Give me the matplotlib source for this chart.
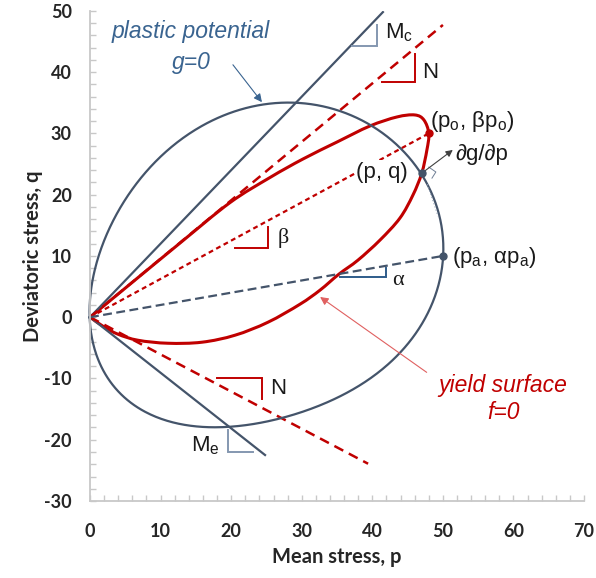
import numpy as np
import matplotlib
matplotlib.use("Agg")
import matplotlib.pyplot as plt
from matplotlib.path import Path
from matplotlib.patches import PathPatch

plt.rcParams["mathtext.fontset"] = "custom"
plt.rcParams["mathtext.rm"] = "Liberation Sans"
plt.rcParams["mathtext.it"] = "Liberation Sans:italic"
plt.rcParams["axes.unicode_minus"] = False

# ---- traced data ----
# plastic potential g=0 (closed curve, traced clockwise from origin)
g_p = [0.00, 0.28, 1.42, 3.26, 5.67, 8.92, 12.75, 16.57, 20.25, 24.08, 27.62, 30.17,
       35.41, 39.66, 42.78, 45.33, 47.0, 48.58, 49.72, 50.14, 50.0, 49.15, 47.73,
       45.75, 43.77, 41.50, 39.24, 35.41, 32.15, 29.75, 25.21, 19.55, 15.86, 11.05,
       6.37, 3.12, 1.13, 0.28]
g_q = [0.00, 4.90, 10.46, 15.85, 20.75, 25.16, 28.59, 31.70, 33.50, 34.64, 35.13, 34.97,
       33.50, 31.05, 28.10, 25.65, 23.5, 18.30, 14.22, 10.95, 10.0, 4.41, 0.00,
       -3.76, -5.72, -8.17, -10.29, -13.07, -14.71, -15.69, -17.16, -17.65, -17.48, -16.83,
       -14.71, -11.44, -8.17, -4.90]
# yield surface f=0 (starts and ends at origin)
f_p = [0, 6.0, 12.75, 19.83, 25.50, 30.17, 34.99, 39.66, 43.48, 46.03, 47.31, 48.0,
       47.73, 47.0, 45.75, 43.91, 41.08, 37.96, 35.27, 32.58, 29.75, 25.21, 20.54,
       15.86, 11.05, 6.80, 3.97, 1.84, 0]
f_q = [0, 5.7, 12.1, 18.7, 22.8, 25.82, 28.59, 31.21, 32.68, 33.01, 32.19, 30.0,
       27.29, 23.5, 19.93, 16.18, 12.58, 9.31, 7.03, 4.41, 2.12, -0.82, -2.94,
       -4.08, -4.25, -3.76, -2.78, -1.47, 0]

# straight lines through origin: slope and end p
Mc_slope, Mc_end = 1.2, 41.5
Nu_slope, Nu_end = 0.954, 50.0
Nl_slope, Nl_end = -0.607, 39.4
Me_slope, Me_end = -0.907, 24.8
beta, po = 0.625, 48.0
alpha, pa = 0.2, 50.0
p_pt, q_pt = 47.0, 23.5

xticks = [0, 10, 20, 30, 40, 50, 60, 70]
yticks = [-30, -20, -10, 0, 10, 20, 30, 40, 50]

RED = "#C00000"
NAVY = "#44546A"
TRI = "#8497B0"
BLUE_TXT = "#3A6490"


def cr_path(px, py, closed):
    P = np.column_stack([px, py]).astype(float)
    n = len(P)
    if closed:
        ext = np.vstack([P[-1], P, P[0], P[1]])
    else:
        ext = np.vstack([2 * P[0] - P[1], P, 2 * P[-1] - P[-2]])
    verts = [ext[1]]
    codes = [Path.MOVETO]
    nseg = n if closed else n - 1
    for i in range(1, nseg + 1):
        p0, p1, p2, p3 = ext[i - 1], ext[i], ext[i + 1], ext[i + 2]
        c1 = p1 + (p2 - p0) / 6.0
        c2 = p2 - (p3 - p1) / 6.0
        verts += [c1, c2, p2]
        codes += [Path.CURVE4] * 3
    return Path(verts, codes)


def fourier_closed(px, py, sx, sy, K=4, wts=None):
    """Elliptic-Fourier smoothing (low harmonics) of a traced closed curve."""
    X = np.asarray(px, float) * sx
    Y = np.asarray(py, float) * sy
    Xc, Yc = np.append(X, X[0]), np.append(Y, Y[0])
    s = np.concatenate([[0.0], np.cumsum(np.hypot(np.diff(Xc), np.diff(Yc)))])
    th = 2 * np.pi * s[:-1] / s[-1]
    w = np.ones(len(X)) if wts is None else np.asarray(wts, float)

    def basis(t):
        cols = [np.ones_like(t)]
        for k in range(1, K + 1):
            cols += [np.cos(k * t), np.sin(k * t)]
        return np.column_stack(cols)

    B = basis(th) * w[:, None]
    cx, *_ = np.linalg.lstsq(B, X * w, rcond=None)
    cy, *_ = np.linalg.lstsq(B, Y * w, rcond=None)
    t = np.linspace(0, 2 * np.pi, 721)
    Bt = basis(t)
    return (Bt @ cx) / sx, (Bt @ cy) / sy


fig = plt.figure(figsize=(5.96, 5.78), dpi=100)
ax = fig.add_axes([0.151, 0.1332, 0.829, 0.848])
ax.set_xlim(0, 70)
ax.set_ylim(-30, 50)

# straight lines
ax.plot([0, Mc_end], [0, Mc_slope * Mc_end], color=NAVY, lw=1.6)
ax.plot([0, Me_end], [0, Me_slope * Me_end], color=NAVY, lw=1.6)
ax.plot([0, Nu_end], [0, Nu_slope * Nu_end], color=RED, lw=1.8, ls=(0, (4, 2.5)))
ax.plot([0, Nl_end], [0, Nl_slope * Nl_end], color=RED, lw=1.8, ls=(0, (4, 2.5)))
ax.plot([0, po], [0, beta * po], color=RED, lw=1.6, ls=(0, (2.2, 1.6)))
ax.plot([0, pa], [0, alpha * pa], color=NAVY, lw=1.6, ls=(0, (4, 2)))

# curves
w = np.ones(len(g_p))
w[[0, 16, 20]] = 4.0
gx, gy = fourier_closed(g_p, g_q, 7.06, 6.125, K=4, wts=w)
ax.plot(gx, gy, color=NAVY, lw=1.6, clip_on=False)
ax.add_patch(PathPatch(cr_path(f_p, f_q, False), fill=False, ec=RED, lw=2.2))

# points
ax.plot([po], [beta * po], "o", color=RED, ms=5, zorder=5)
ax.plot([p_pt], [q_pt], "o", color=NAVY, ms=5, zorder=5)
ax.plot([pa], [alpha * pa], "o", color=NAVY, ms=5, zorder=5)

# gradient arrow and right-angle mark at (p,q)
ax.annotate("", xy=(51.4, 27.3), xytext=(p_pt, q_pt),
            arrowprops=dict(arrowstyle="-|>", color="#404040", lw=0.8,
                            mutation_scale=10, shrinkA=0, shrinkB=0))
ax.plot([48.0, 49.0, 48.45], [24.5, 23.7, 22.7], color="#6F7F95", lw=0.7)
ax.plot([47.8, 49.3], [21.7, 16.5], color="#9AA8BA", lw=0.8, ls=(0, (1, 2)))

# slope triangles
def tri(xs, ys, c):
    ax.plot(xs, ys, color=c, lw=1.4, solid_joinstyle="miter")

tri([37.1, 40.65, 40.65], [44.3, 44.3, 47.7], TRI)
tri([41.36, 46.03, 46.03], [38.4, 38.4, 42.97], RED)
tri([20.54, 25.21, 25.21], [11.27, 11.27, 14.7], RED)
tri([35.41, 41.93, 41.93], [6.54, 6.54, 8.0], "#2E5C8A")
tri([17.99, 24.36, 24.36], [-9.97, -9.97, -13.4], RED)
tri([19.55, 19.55, 23.09], [-18.46, -22.06, -22.06], TRI)

LBL = dict(fontsize=16, color="#1A1A1A", family=["Liberation Sans", "DejaVu Sans"])
GRK = dict(fontsize=16, color="#1A1A1A", family=["Liberation Serif", "DejaVu Serif"])
ax.text(41.8, 46.4, r"M$_\mathrm{c}$", ha="left", va="center", **LBL)
ax.text(47.0, 40.0, "N", ha="left", va="center", **LBL)
ax.text(26.6, 12.9, "β", ha="left", va="center", **GRK)
ax.text(42.8, 6.0, "α", ha="left", va="center", **GRK)
ax.text(25.5, -11.6, "N", ha="left", va="center", **LBL)
ax.text(18.4, -20.9, r"M$_\mathrm{e}$", ha="right", va="center", **LBL)

ax.text(48.1, 31.9, r"(p$_\mathrm{o}$, βp$_\mathrm{o}$)", ha="left", va="center", **LBL)
ax.text(51.7, 26.6, "∂g/∂p", ha="left", va="center", **LBL)
ax.text(45.0, 23.7, "(p, q)", ha="right", va="center",
        bbox=dict(fc="white", ec="none", pad=1.0), **LBL)
ax.text(51.3, 9.8, r"(p$_\mathrm{a}$, αp$_\mathrm{a}$)", ha="left", va="center", **LBL)

# curve names
NAME = dict(fontsize=16.5, style="italic", family="Liberation Sans", ha="center", va="center")
ax.text(14.2, 46.6, "plastic potential", color=BLUE_TXT, **NAME)
ax.text(14.4, 41.5, "g=0", color=BLUE_TXT, **NAME)
ax.annotate("", xy=(24.36, 35.1), xytext=(20.25, 41.2),
            arrowprops=dict(arrowstyle="-|>", color=BLUE_TXT, lw=0.8,
                            mutation_scale=12, shrinkA=0, shrinkB=0))
ax.text(58.5, -11.1, "yield surface", color=RED, **NAME)
ax.text(58.6, -15.5, "f=0", color=RED, **NAME)
ax.annotate("", xy=(32.6, 3.3), xytext=(47.7, -9.0),
            arrowprops=dict(arrowstyle="-|>", color="#E06060", lw=0.8,
                            mutation_scale=12, shrinkA=0, shrinkB=0))

# axes styling
for s in ["top", "right"]:
    ax.spines[s].set_visible(False)
for s in ["left", "bottom"]:
    ax.spines[s].set_color("#C8C8C8")
    ax.spines[s].set_linewidth(1.3)
ax.set_xticks(xticks)
ax.set_yticks(yticks)
ax.set_xticks(np.arange(0, 71, 2), minor=True)
ax.set_yticks(np.arange(-30, 51, 2), minor=True)
ax.tick_params(which="both", direction="in", length=4, width=1, color="#C8C8C8")
ax.tick_params(axis="y", pad=13)
ax.tick_params(axis="x", pad=16)
for lab in ax.get_xticklabels() + ax.get_yticklabels():
    lab.set_fontweight("bold")
    lab.set_fontsize(13)
    lab.set_family("Lato")
    lab.set_color("#262626")
ax.set_xlabel("Mean stress, p", fontsize=14.5, fontweight="bold", family="Lato",
              color="#262626", labelpad=5)
ax.set_ylabel("Deviatoric stress, q", fontsize=14.5, fontweight="bold", family="Lato",
              color="#262626", labelpad=1)

fig.savefig("out.png", dpi=100)
